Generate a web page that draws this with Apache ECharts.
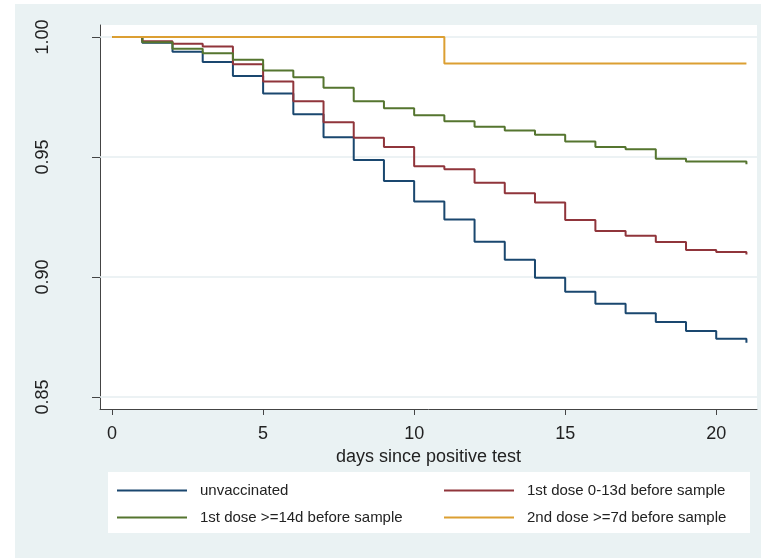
<!DOCTYPE html>
<html>
<head>
<meta charset="utf-8">
<script src="https://cdn.jsdelivr.net/npm/echarts@6/dist/echarts.min.js"></script>
<style>
html,body{margin:0;padding:0;background:#ffffff;}
#main{width:761px;height:558px;}
</style>
</head>
<body>
<div id="main"></div>
<script>
// ---- data ----
const days = [0,1,2,3,4,5,6,7,8,9,10,11,12,13,14,15,16,17,18,19,20,21];
const unvaccinated = [1.0,0.9976,0.9939,0.9896,0.9838,0.9765,0.9678,0.9582,0.9488,0.9400,0.9315,0.9240,0.9147,0.9072,0.8997,0.8939,0.8889,0.8849,0.8813,0.8775,0.8743,0.8726];
const dose1Early = [1.0,0.9982,0.9972,0.9960,0.9886,0.9815,0.9732,0.9645,0.9580,0.9542,0.9461,0.9449,0.9393,0.9349,0.9310,0.9238,0.9192,0.9172,0.9146,0.9113,0.9104,0.9094];
const dose1Late = [1.0,0.9978,0.9951,0.9932,0.9905,0.9860,0.9832,0.9789,0.9732,0.9703,0.9674,0.9649,0.9626,0.9610,0.9593,0.9565,0.9542,0.9532,0.9493,0.9481,0.9481,0.9470];
const dose2 = [1.0,1.0,1.0,1.0,1.0,1.0,1.0,1.0,1.0,1.0,1.0,0.989,0.989,0.989,0.989,0.989,0.989,0.989,0.989,0.989,0.989,0.989];
const seriesNames = ['unvaccinated','1st dose 0-13d before sample','1st dose >=14d before sample','2nd dose >=7d before sample'];
const seriesValues = [unvaccinated, dose1Early, dose1Late, dose2];
const seriesColors = ['#1a476f','#90353b','#55752f','#dc9f32'];
const yTicks = [0.85,0.90,0.95,1.00];
const yTickLabels = ['0.85','0.90','0.95','1.00'];
const xTicks = [0,5,10,15,20];
const xTitle = 'days since positive test';

const chart = echarts.init(document.getElementById('main'), null, {renderer:'canvas'});
const FONT = '"Liberation Sans", Arial, sans-serif';

const series = seriesValues.map((vals, i) => ({
  name: seriesNames[i],
  type: 'line',
  step: 'end',
  symbol: 'none',
  data: days.map((d, j) => [d, vals[j]]),
  lineStyle: {color: seriesColors[i], width: 2},
  itemStyle: {color: seriesColors[i]},
  z: 3 + i,
  animation: false
}));
// gridlines
series[0].markLine = {
  silent: true,
  symbol: 'none',
  label: {show: false},
  animation: false,
  z: 1,
  lineStyle: {color: '#e6eef0', width: 1.5, type: 'solid'},
  data: yTicks.map(v => ({yAxis: v}))
};

const legendPos = [
  {left: 117, top: 483},
  {left: 444, top: 483},
  {left: 117, top: 510},
  {left: 444, top: 510}
];
const legends = seriesNames.map((n, i) => ({
  data: [n],
  left: legendPos[i].left,
  top: legendPos[i].top,
  padding: 0,
  itemWidth: 70,
  itemHeight: 2,
  icon: 'rect',
  selectedMode: false,
  textStyle: {fontFamily: FONT, fontSize: 15, color: '#222', padding: [0,0,0,8]}
}));

chart.setOption({
  backgroundColor: '#ffffff',
  animation: false,
  graphic: [
    {type: 'rect', shape: {x: 15, y: 4, width: 746, height: 554}, style: {fill: '#eaf2f3'}, z: -10},
    {type: 'rect', shape: {x: 100, y: 25, width: 657, height: 384}, style: {fill: '#ffffff'}, z: -9},
    {type: 'rect', shape: {x: 108, y: 472, width: 642, height: 61}, style: {fill: '#ffffff'}, z: -9}
  ],
  legend: legends,
  grid: {left: 100, top: 25, right: 4, bottom: 149, containLabel: false},
  xAxis: {
    type: 'value',
    min: -0.4,
    max: 21.35,
    name: xTitle,
    nameLocation: 'middle',
    nameGap: 32,
    nameTextStyle: {fontFamily: FONT, fontSize: 18, color: '#222'},
    axisLine: {show: true, onZero: false, lineStyle: {color: '#444', width: 1}},
    axisTick: {show: true, length: 6, customValues: xTicks, lineStyle: {color: '#444'}},
    axisLabel: {customValues: xTicks, fontFamily: FONT, fontSize: 18, color: '#222', margin: 16},
    splitLine: {show: false}
  },
  yAxis: {
    type: 'value',
    min: 0.845,
    max: 1.005,
    axisLine: {show: true, onZero: false, lineStyle: {color: '#444', width: 1}},
    axisTick: {show: true, length: 8, customValues: yTicks, lineStyle: {color: '#444'}},
    axisLabel: {customValues: yTicks, rotate: 90, fontFamily: FONT, fontSize: 18, color: '#222', margin: 48,
      formatter: v => { const k = yTicks.findIndex(t => Math.abs(t - v) < 1e-9); return k >= 0 ? yTickLabels[k] : ''; }},
    splitLine: {show: false}
  },
  series: series
});
</script>
</body>
</html>
